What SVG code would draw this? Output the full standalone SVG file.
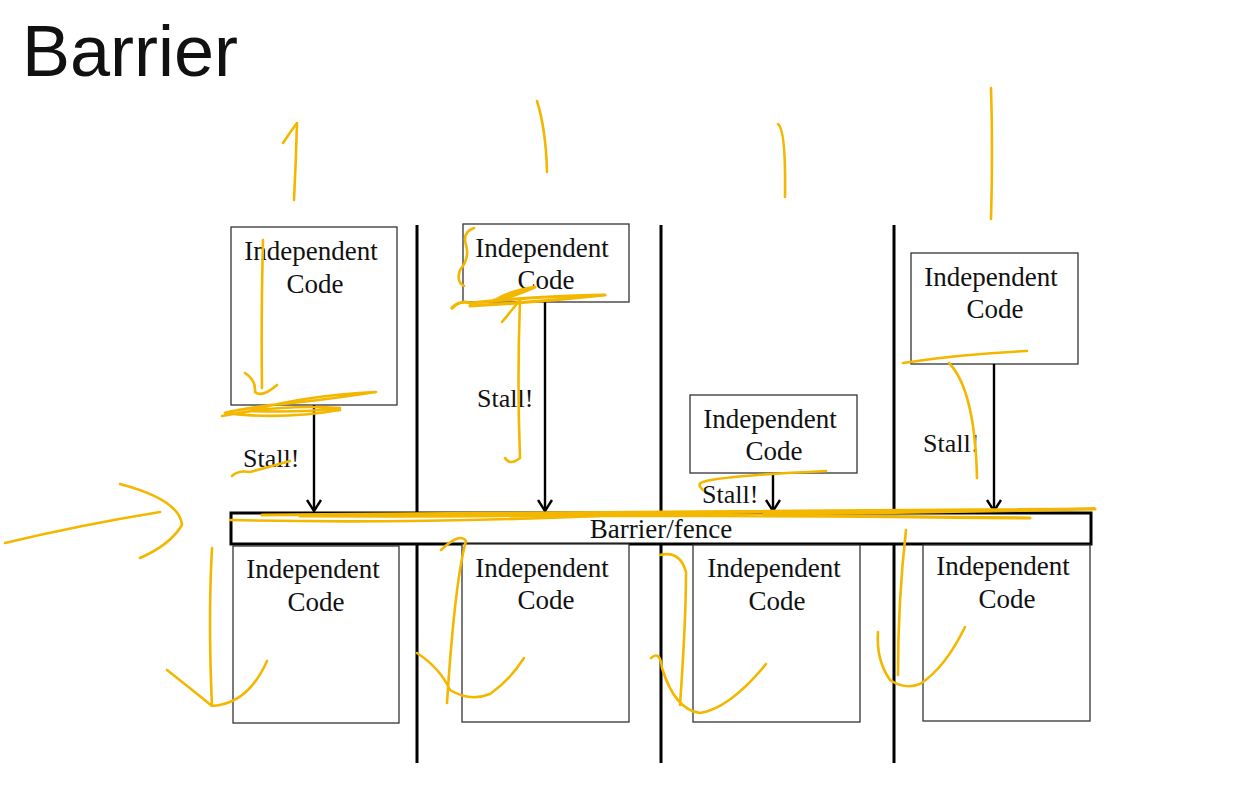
<svg xmlns="http://www.w3.org/2000/svg" width="1258" height="786" viewBox="0 0 1258 786">
<defs>
<marker id="ah" viewBox="0 0 14 16" refX="12" refY="8" markerWidth="14" markerHeight="16" markerUnits="userSpaceOnUse" orient="auto">
<path d="M1,1 L12,8 L1,15" fill="none" stroke="#000" stroke-width="2.4"/>
</marker>
<style>
.box{fill:#fff;stroke:#333;stroke-width:1.3}
.t{font-family:"Liberation Serif","Times New Roman",serif;font-size:27px;fill:#111;text-anchor:middle}
.s{font-family:"Liberation Serif","Times New Roman",serif;font-size:26px;fill:#111}
.lane{stroke:#000;stroke-width:3}
.arr{stroke:#000;stroke-width:2.4;fill:none}
.y{fill:none;stroke:#F4B700;stroke-width:2.6;stroke-linecap:round;stroke-linejoin:round}
.yt{fill:none;stroke:#F4B700;stroke-width:3.2;stroke-linecap:round;stroke-linejoin:round}
</style>
</defs>
<rect width="1258" height="786" fill="#fff"/>
<text x="22" y="76" font-family="Liberation Sans, Arial, sans-serif" font-size="72" fill="#111">Barrier</text>

<g id="lanes">
<line class="lane" x1="417" y1="225" x2="417" y2="763"/>
<line class="lane" x1="661" y1="225" x2="661" y2="763"/>
<line class="lane" x1="894" y1="225" x2="894" y2="763"/>
</g>

<g id="barrier">
<rect x="231" y="513" width="860" height="31" fill="#fff" stroke="#000" stroke-width="3"/>
<text class="t" x="661" y="538">Barrier/fence</text>
</g>

<g id="top1"><rect class="box" x="231" y="227" width="166" height="178"/><text class="t" x="311" y="260">Independent</text><text class="t" x="315" y="293">Code</text></g>
<g id="top2"><rect class="box" x="463" y="224" width="166" height="78"/><text class="t" x="542" y="257">Independent</text><text class="t" x="546" y="289">Code</text></g>
<g id="top3"><rect class="box" x="690" y="395" width="167" height="78"/><text class="t" x="770" y="428">Independent</text><text class="t" x="774" y="460">Code</text></g>
<g id="top4"><rect class="box" x="911" y="253" width="167" height="111"/><text class="t" x="991" y="286">Independent</text><text class="t" x="995" y="318">Code</text></g>

<g id="bot1"><rect class="box" x="233" y="546" width="166" height="177"/><text class="t" x="313" y="578">Independent</text><text class="t" x="316" y="611">Code</text></g>
<g id="bot2"><rect class="box" x="462" y="544" width="167" height="178"/><text class="t" x="542" y="577">Independent</text><text class="t" x="546" y="609">Code</text></g>
<g id="bot3"><rect class="box" x="693" y="545" width="167" height="177"/><text class="t" x="774" y="577">Independent</text><text class="t" x="777" y="610">Code</text></g>
<g id="bot4"><rect class="box" x="923" y="545" width="167" height="176"/><text class="t" x="1003" y="575">Independent</text><text class="t" x="1007" y="608">Code</text></g>

<g id="connectors">
<line class="arr" x1="314" y1="405" x2="314" y2="511" marker-end="url(#ah)"/>
<line class="arr" x1="545" y1="302" x2="545" y2="511" marker-end="url(#ah)"/>
<line class="arr" x1="773" y1="473" x2="773" y2="511" marker-end="url(#ah)"/>
<line class="arr" x1="994" y1="364" x2="994" y2="511" marker-end="url(#ah)"/>
</g>

<g id="labels">
<text class="s" x="243" y="467">Stall!</text>
<text class="s" x="477" y="407">Stall!</text>
<text class="s" x="702" y="503">Stall!</text>
<text class="s" x="923" y="452">Stall!</text>
</g>

<g id="ink">
<path class="y" d="M283,143 Q291,131 297,123 Q296,160 294,200"/>
<path class="y" d="M537,101 Q546,130 547,172"/>
<path class="y" d="M778,124 Q786,130 785,197"/>
<path class="y" d="M991,88 Q993,150 991,219"/>
<path class="y" d="M263,240 Q261,320 262,388 M245,373 Q256,380 255,392 Q262,398 277,385"/>
<path class="y" d="M222,416 Q280,404 340,408 Q300,413 250,411 Q300,396 376,392 Q310,402 270,405 Q230,411 225,413 Q280,420 340,410"/>
<path class="y" d="M232,476 Q238,470 250,472 Q265,468 290,461"/>
<path class="y" d="M474,228 Q462,232 466,245 Q470,258 460,270 Q456,282 464,286"/>
<path class="yt" d="M452,308 Q460,300 470,303 Q540,296 605,295 Q540,302 470,306 M492,303 Q505,292 535,287 Q510,298 494,300"/>
<path class="y" d="M502,322 Q512,310 520,300 Q517,380 520,458 Q510,466 505,458"/>
<path class="y" d="M703,490 Q696,484 703,482 Q720,476 826,471"/>
<path class="y" d="M903,363 Q960,354 1027,351"/>
<path class="y" d="M949,363 Q975,390 977,478"/>
<path class="yt" d="M262,515 Q600,512 1095,509 Q700,517 300,516 Q700,514 1030,518"/>
<path class="y" d="M230,520 Q400,524 600,516"/>
<path class="y" d="M5,543 Q80,525 160,512 M120,484 Q180,500 182,525 Q170,545 140,558"/>
<path class="y" d="M212,548 Q208,620 212,706 M167,670 Q190,688 212,706 Q248,704 267,661"/>
<path class="y" d="M441,550 Q460,532 466,541 Q455,580 447,703 M417,653 Q440,668 450,690 Q470,702 490,694 Q510,680 524,658"/>
<path class="y" d="M660,555 Q680,550 686,572 Q686,620 680,705 M651,658 Q660,650 662,668 Q675,710 700,713 Q730,708 766,664"/>
<path class="y" d="M906,530 Q898,600 898,675 M878,632 Q876,660 890,680 Q905,690 920,684 Q945,668 965,627"/>
</g>
</svg>
